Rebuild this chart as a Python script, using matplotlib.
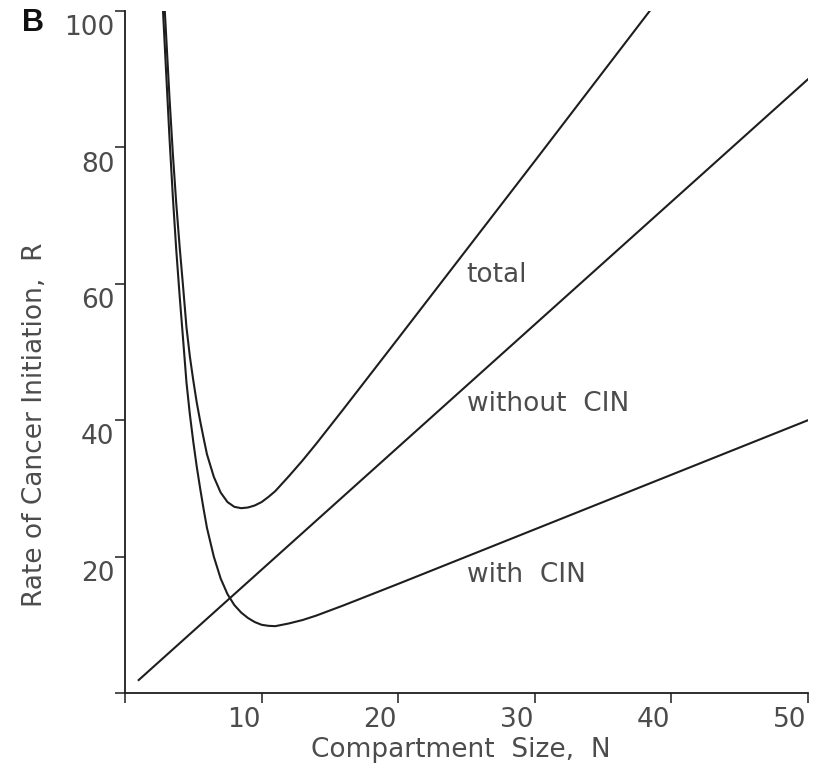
import numpy as np
import matplotlib
matplotlib.use("Agg")
from matplotlib import pyplot as plt

# values
n_without = [1.0, 50.0]
r_without = [1.9, 90.0]

n_with = [2.75, 3.0, 3.25, 3.5, 3.75, 4.0, 4.25, 4.5, 4.75, 5.0, 5.25, 5.5,
          5.75, 6.0, 6.5, 7.0, 7.5, 8.0, 8.5, 9.0, 9.5, 10.0, 10.5, 11.0,
          12.0, 13.0, 14.0, 16.0, 20.0, 30.0, 40.0, 50.0]
r_with = [101.2, 91.4, 81.6, 72.8, 65.0, 58.2, 51.9, 45.5, 40.8, 36.8, 33.2,
          30.0, 27.0, 24.2, 20.0, 16.8, 14.5, 12.9, 11.8, 11.0, 10.4, 10.0,
          9.85, 9.8, 10.2, 10.7, 11.35, 12.85, 16.0, 24.0, 32.0, 40.0]

n_total = [2.75, 3.0, 3.25, 3.5, 3.75, 4.0, 4.25, 4.5, 4.75, 5.0, 5.25, 5.5,
           5.75, 6.0, 6.5, 7.0, 7.5, 8.0, 8.5, 9.0, 9.5, 10.0, 10.5, 11.0,
           12.0, 13.0, 14.0, 16.0, 20.0, 30.0, 38.6]
r_total = [106.0, 96.8, 87.5, 79.1, 71.8, 65.4, 59.6, 53.6, 49.3, 45.8, 42.6,
           39.9, 37.4, 35.0, 31.7, 29.4, 28.0, 27.3, 27.1, 27.2, 27.5, 28.0,
           28.75, 29.6, 31.8, 34.1, 36.55, 41.65, 52.0, 78.0, 100.5]

x_ticks = [0, 10, 20, 30, 40, 50]
y_ticks = [0, 20, 40, 60, 80, 100]

curve_labels = ["total", "without  CIN", "with  CIN"]
label_pos = [(25.0, 61.3), (25.0, 42.4), (25.0, 17.3)]

ink = "#1e1e1e"
txt = "#4c4c4c"
fs = 19
plt.rcParams['font.family'] = ['DejaVu Sans']

fig = plt.figure(figsize=(8.15, 7.7), dpi=100)
ax = fig.add_axes([0.1534, 0.1, 0.838, 0.8857])

ax.plot(n_without, r_without, color=ink, lw=1.5)
ax.plot(n_with, r_with, color=ink, lw=1.5)
ax.plot(n_total, r_total, color=ink, lw=1.5)

ax.set_xlim(0, 50)
ax.set_ylim(0, 100)
for s in ['top', 'right']:
    ax.spines[s].set_visible(False)
for s in ['left', 'bottom']:
    ax.spines[s].set_color(ink)
    ax.spines[s].set_linewidth(1.3)

ax.set_xticks(x_ticks)
ax.set_yticks(y_ticks)
ax.set_xticklabels([])
ax.set_yticklabels([])
ax.tick_params(direction='out', length=7, width=1.1, color=ink)

# tick labels hang below-left of each tick, as in the original
for v in x_ticks[1:]:
    ax.annotate(str(v), xy=(v, 0), xycoords=('data', 'axes fraction'),
                xytext=(-1, -10), textcoords='offset points',
                ha='right', va='top', fontsize=fs, color=txt)
for v in y_ticks[1:]:
    ax.annotate(str(v), xy=(0, v), xycoords=('axes fraction', 'data'),
                xytext=(-7.5, -3), textcoords='offset points',
                ha='right', va='top', fontsize=fs, color=txt)

for lab, (x, y) in zip(curve_labels, label_pos):
    ax.text(x, y, lab, ha='left', va='center', fontsize=fs, color=txt)

ax.text(0.492, -0.084, "Compartment  Size,  N", transform=ax.transAxes,
        ha='center', va='center', fontsize=fs, color=txt)
ax.text(-0.132, 0.394, "Rate of Cancer Initiation,  R", transform=ax.transAxes,
        ha='center', va='center', rotation=90, fontsize=fs, color=txt)

fig.text(22 / 815, 1 - 23 / 770, "B", ha='left', va='center', fontsize=22,
         fontweight='bold', color='#111111', family=['Liberation Sans', 'DejaVu Sans'])

fig.savefig("out.png", dpi=100)
